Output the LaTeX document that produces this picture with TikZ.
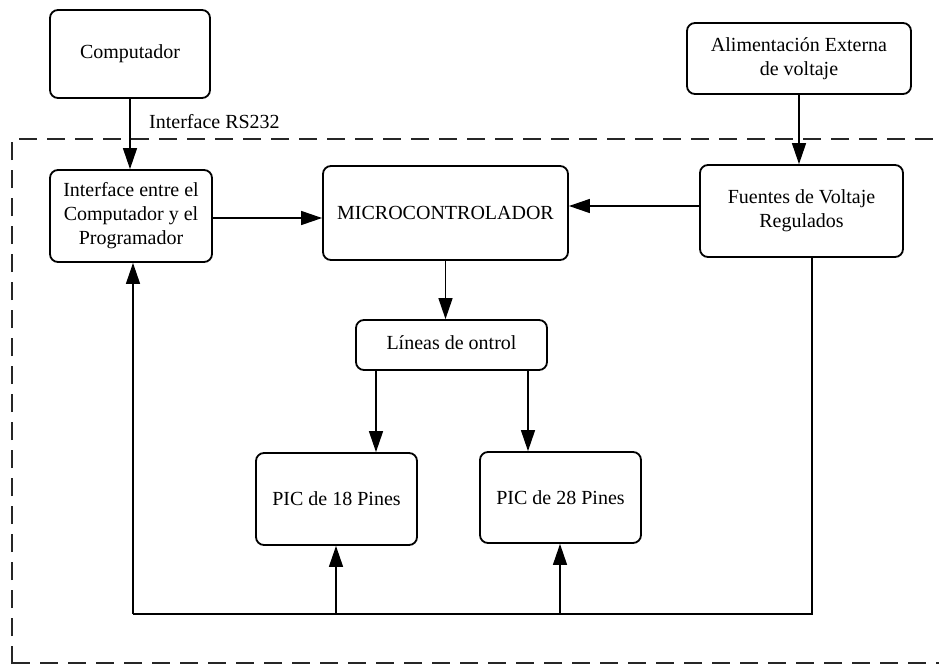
\documentclass[tikz,border=0pt]{standalone}
\usepackage{fontspec}
\setmainfont{Liberation Serif}
\usetikzlibrary{arrows.meta}
\begin{document}
\begin{tikzpicture}[x=1pt,y=-1pt,
  box/.style={draw, line width=1.8pt, rounded corners=8pt, align=center, inner sep=2pt,
    font=\fontsize{20}{24}\selectfont},
  conn/.style={line width=1.4pt},
  arr/.style={conn, -{Triangle[length=21pt,width=14pt]}},
  frame/.style={line width=1.6pt, dash pattern=on 18pt off 10pt, black!85}]
\useasboundingbox (0,0) rectangle (939,665);
\clip (0,0) rectangle (939,665);
\fill[white] (0,0) rectangle (939,665);
% dashed enclosure
\draw[frame] (12,664) -- (12,139) -- (960,139);
\draw[frame] (12,663) -- (960,663);
% nodes
\node[box, minimum width=160pt, minimum height=88pt] (comp) at (130,54) {Computador};
\node[box, minimum width=224pt, minimum height=71pt] (alim) at (799,58.5) {Alimentación Externa\\de voltaje};
\node[box, minimum width=162pt, minimum height=92pt] (iface) at (131,216) {Interface entre el\\Computador y el\\Programador};
\node[box, minimum width=245pt, minimum height=94pt] (micro) at (445.5,213) {MICROCONTROLADOR};
\node[box, minimum width=203pt, minimum height=92pt] (fuentes) at (801.5,211) {Fuentes de Voltaje\\Regulados};
\node[box, minimum width=191pt, minimum height=50pt] (lineas) at (451.5,345) {\raisebox{5pt}{Líneas de ontrol}};
\node[box, minimum width=161pt, minimum height=92pt] (pic18) at (336.5,499) {PIC de 18 Pines};
\node[box, minimum width=161pt, minimum height=91pt] (pic28) at (560.5,497.5) {PIC de 28 Pines};
\node[anchor=west, font=\fontsize{20}{24}\selectfont, inner sep=0pt] (rs) at (149,122) {Interface RS232};
% helper coordinates
\coordinate (c18) at (376,0);
\coordinate (c28) at (528,0);
\coordinate (bl) at (133,614);
\coordinate (br) at (812,614);
\coordinate (u18) at (336,614);
\coordinate (u28) at (560,614);
% connectors
\draw[arr] (comp.south) -- (comp.south |- iface.north);
\draw[arr] ([yshift=-2pt]iface.east) -- ([yshift=-2pt]iface.east -| micro.west);
\draw[arr] ([yshift=5pt]fuentes.west) -- ([yshift=5pt]fuentes.west -| micro.east);
\draw[arr] (alim.south) -- (alim.south |- fuentes.north);
\draw[arr] (micro.south) -- (micro.south |- lineas.north);
\draw[arr] (lineas.south -| c18) -- (pic18.north -| c18);
\draw[arr] (lineas.south -| c28) -- (pic28.north -| c28);
\draw[conn] (fuentes.south -| br) -- (br) -- (bl);
\draw[arr] (bl) -- (iface.south -| bl);
\draw[arr] (u18) -- (pic18.south -| u18);
\draw[arr] (u28) -- (pic28.south -| u28);
\end{tikzpicture}
\end{document}
